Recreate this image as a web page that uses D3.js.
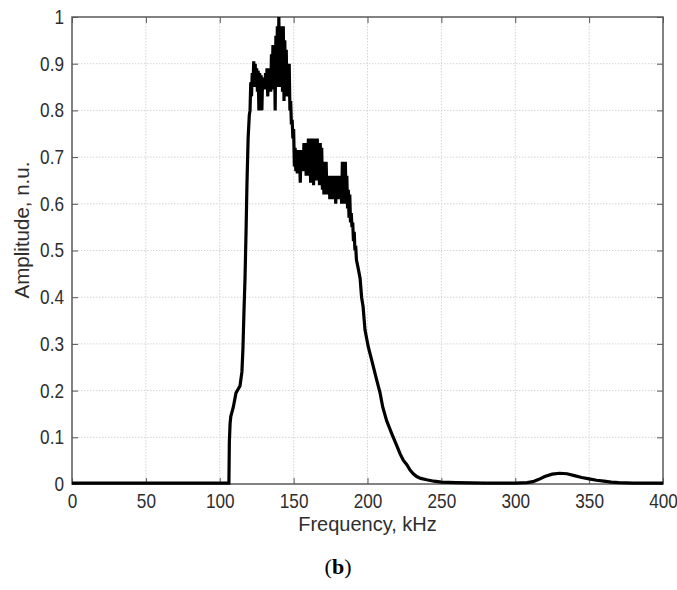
<!DOCTYPE html>
<html>
<head>
<meta charset="utf-8">
<script src="https://cdn.jsdelivr.net/npm/d3@7"></script>
<style>
  body { margin: 0; background: #fff; }
  svg { display: block; font-family: "Liberation Sans", Arial, sans-serif; }
</style>
</head>
<body>
<script>
// spectrum (kHz, normalised amplitude)
const freqKHz = [
  0, 50, 100, 106.2, 106.5, 107.0, 107.5, 109.2, 111.0, 113.7, 115.0, 115.7, 116.4, 117.1, 117.8, 118.4, 119.2, 120.0,
  120.5, 121.0, 121.5, 122.0, 122.5, 123.0, 123.5, 124.0, 124.5, 125.0, 125.5, 126.0, 126.5, 127.0, 127.5, 128.0,
  128.5, 129.0, 129.5, 130.0, 130.5, 131.0, 131.5, 132.0, 132.5, 133.0, 133.5, 134.0, 134.5, 135.0, 135.5, 136.0,
  136.5, 137.0, 137.5, 138.0, 138.5, 139.0, 139.5, 140.0, 140.5, 141.0, 141.5, 142.0, 142.5, 143.0, 143.5, 144.0,
  144.5, 145.0, 145.5, 146.0, 146.5, 147.0, 147.5, 148.0, 148.5, 149.0, 149.5, 150.0, 150.5, 151.0, 151.5, 152.0,
  152.5, 153.0, 153.5, 154.0, 154.5, 155.0, 155.5, 156.0, 156.5, 157.0, 157.5, 158.0, 158.5, 159.0, 159.5, 160.0,
  160.5, 161.0, 161.5, 162.0, 162.5, 163.0, 163.5, 164.0, 164.5, 165.0, 165.5, 166.0, 166.5, 167.0, 167.5, 168.0,
  168.5, 169.0, 169.5, 170.0, 170.5, 171.0, 171.5, 172.0, 172.5, 173.0, 173.5, 174.0, 174.5, 175.0, 175.5, 176.0,
  176.5, 177.0, 177.5, 178.0, 178.5, 179.0, 179.5, 180.0, 180.5, 181.0, 181.5, 182.0, 182.5, 183.0, 183.5, 184.0,
  184.5, 185.0, 185.5, 186.0, 186.5, 187.0, 187.5, 188.0, 188.5, 189.0, 189.5, 190.0, 190.5, 191.0, 191.5, 192.0,
  192.5, 193.5, 195.0, 196.0, 197.0, 198.3, 200.5, 202.8, 206.2, 208.5, 210.3, 213.0, 216.4, 219.8, 222.0, 224.2,
  226.5, 228.8, 231.0, 233.3, 236.0, 240.0, 245.0, 250.0, 260.0, 280.0, 300.0, 308.0, 312.0, 316.0, 320.0, 325.0,
  330.0, 335.0, 340.0, 345.0, 350.0, 355.0, 360.0, 365.0, 370.0, 380.0, 400.0
];
const amplitude = [
  0.002, 0.002, 0.002, 0.002, 0.09, 0.13, 0.145, 0.165, 0.195, 0.21, 0.24, 0.29, 0.37, 0.44, 0.54, 0.64, 0.74, 0.79,
  0.80, 0.86, 0.83, 0.88, 0.85, 0.905, 0.86, 0.90, 0.85, 0.89, 0.84, 0.885, 0.80, 0.88, 0.845, 0.875,
  0.80, 0.87, 0.85, 0.87, 0.845, 0.88, 0.85, 0.89, 0.83, 0.89, 0.85, 0.89, 0.84, 0.92, 0.85, 0.94,
  0.845, 0.94, 0.80, 0.96, 0.86, 0.98, 0.85, 1.0, 0.86, 0.97, 0.85, 0.98, 0.84, 0.98, 0.82, 0.95,
  0.85, 0.93, 0.83, 0.90, 0.84, 0.90, 0.80, 0.82, 0.77, 0.78, 0.74, 0.76, 0.68, 0.72, 0.67, 0.70,
  0.665, 0.715, 0.67, 0.70, 0.645, 0.715, 0.675, 0.71, 0.67, 0.73, 0.67, 0.72, 0.66, 0.73, 0.675, 0.74,
  0.66, 0.73, 0.645, 0.74, 0.665, 0.72, 0.64, 0.74, 0.66, 0.73, 0.65, 0.74, 0.665, 0.72, 0.64, 0.73,
  0.655, 0.72, 0.63, 0.69, 0.62, 0.68, 0.635, 0.69, 0.62, 0.66, 0.625, 0.66, 0.61, 0.65, 0.625, 0.66,
  0.61, 0.66, 0.62, 0.65, 0.60, 0.66, 0.625, 0.65, 0.61, 0.66, 0.62, 0.65, 0.60, 0.69, 0.615, 0.68,
  0.60, 0.69, 0.605, 0.66, 0.59, 0.63, 0.57, 0.62, 0.56, 0.58, 0.55, 0.56, 0.52, 0.54, 0.50, 0.51,
  0.48, 0.465, 0.44, 0.40, 0.38, 0.33, 0.294, 0.266, 0.223, 0.195, 0.165, 0.135, 0.108, 0.082, 0.065, 0.051,
  0.042, 0.030, 0.022, 0.016, 0.012, 0.009, 0.006, 0.004, 0.003, 0.002, 0.002, 0.003, 0.005, 0.010, 0.016, 0.021,
  0.023, 0.022, 0.018, 0.014, 0.011, 0.008, 0.006, 0.004, 0.003, 0.002, 0.002
];
const xTicks = [0, 50, 100, 150, 200, 250, 300, 350, 400];
const yTicks = [0, 0.1, 0.2, 0.3, 0.4, 0.5, 0.6, 0.7, 0.8, 0.9, 1];

const width = 677;
const height = 590;
const margin = {left: 72, top: 17, right: 14, bottom: 106};
const plotW = width - margin.left - margin.right;
const plotH = height - margin.top - margin.bottom;
const tickLen = 6;
const textColor = '#2e2e2e';
const squeeze = 0.86;

const x = d3.scaleLinear().domain([0, 400]).range([0, plotW]);
const y = d3.scaleLinear().domain([0, 1]).range([plotH, 0]);

const svg = d3.select('body')
  .append('svg')
  .attr('width', width)
  .attr('height', height);

const g = svg.append('g')
  .attr('transform', 'translate(' + margin.left + ',' + margin.top + ')');

//grid
g.append('g')
  .selectAll('line')
  .data(xTicks.slice(1, -1))
  .enter()
  .append('line')
  .attr('x1', d => x(d)).attr('x2', d => x(d))
  .attr('y1', 0).attr('y2', plotH)
  .attr('stroke', '#d4d4d4')
  .attr('stroke-dasharray', '1.5,1.5');

g.append('g')
  .selectAll('line')
  .data(yTicks.slice(1, -1))
  .enter()
  .append('line')
  .attr('y1', d => y(d)).attr('y2', d => y(d))
  .attr('x1', 0).attr('x2', plotW)
  .attr('stroke', '#d4d4d4')
  .attr('stroke-dasharray', '1.5,1.5');

//axes, ticks pointing inwards
const xAxis = d3.axisBottom(x).tickValues(xTicks).tickSize(-tickLen).tickPadding(10).tickFormat(d3.format('d'));
const yAxis = d3.axisLeft(y).tickValues(yTicks).tickSize(-tickLen).tickPadding(8).tickFormat(d => String(d));

const xAxisG = g.append('g')
  .attr('class', 'axis')
  .attr('transform', 'translate(0,' + plotH + ')')
  .call(xAxis);

const yAxisG = g.append('g')
  .attr('class', 'axis')
  .call(yAxis);

g.append('g')
  .attr('class', 'axis')
  .call(d3.axisTop(x).tickValues(xTicks).tickSize(-tickLen).tickFormat(''));

g.append('g')
  .attr('class', 'axis')
  .attr('transform', 'translate(' + plotW + ',0)')
  .call(d3.axisRight(y).tickValues(yTicks).tickSize(-tickLen).tickFormat(''));

g.selectAll('.axis .domain').remove();
g.selectAll('.axis line').attr('stroke', '#555');
g.selectAll('.axis text')
  .attr('fill', textColor)
  .attr('font-size', 20);

// narrow the tick numbers like the original
xAxisG.selectAll('text').attr('transform', 'scale(' + squeeze + ',1)');
yAxisG.selectAll('text')
  .attr('x', -8 / squeeze)
  .attr('transform', 'scale(' + squeeze + ',1)');

//frame
g.append('rect')
  .attr('width', plotW)
  .attr('height', plotH)
  .attr('fill', 'none')
  .attr('stroke', '#5a5a5a')
  .attr('stroke-width', 1.5);

//spectrum
const line = d3.line()
  .x(d => x(d[0]))
  .y(d => y(d[1]));

g.append('path')
  .datum(freqKHz.map((f, i) => [f, amplitude[i]]))
  .attr('d', line)
  .attr('fill', 'none')
  .attr('stroke', '#000')
  .attr('stroke-width', 3.2)
  .attr('stroke-linejoin', 'miter');

//labels
svg.append('text')
  .text('Frequency, kHz')
  .attr('x', margin.left + plotW / 2)
  .attr('y', 531)
  .attr('text-anchor', 'middle')
  .attr('font-size', 20)
  .attr('fill', textColor);

svg.append('text')
  .text('Amplitude, n.u.')
  .attr('transform', 'translate(29,230) rotate(-90)')
  .attr('text-anchor', 'middle')
  .attr('font-size', 20.5)
  .attr('fill', textColor);

const caption = svg.append('text')
  .attr('x', 338)
  .attr('y', 574)
  .attr('text-anchor', 'middle')
  .attr('font-family', '"Liberation Serif", "Times New Roman", serif')
  .attr('font-size', 22)
  .attr('fill', '#000');
caption.append('tspan').text('(');
caption.append('tspan').attr('font-weight', 'bold').text('b');
caption.append('tspan').text(')');
</script>
</body>
</html>
